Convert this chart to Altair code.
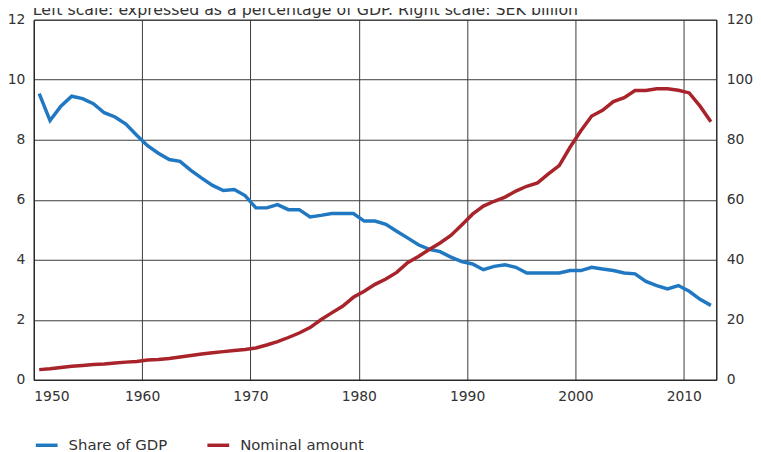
import altair as alt
import pandas as pd

years = list(range(1950, 2013))

share_of_gdp = [
    9.54, 8.64, 9.12, 9.45, 9.37, 9.20, 8.90, 8.76, 8.52, 8.15,
    7.80, 7.55, 7.34, 7.28, 6.98, 6.72, 6.48, 6.31, 6.34, 6.14,
    5.73, 5.73, 5.84, 5.67, 5.67, 5.43, 5.48, 5.54, 5.54, 5.54,
    5.29, 5.29, 5.18, 4.95, 4.73, 4.50, 4.35, 4.27, 4.09, 3.94,
    3.86, 3.67, 3.78, 3.83, 3.75, 3.56, 3.56, 3.56, 3.56, 3.64,
    3.64, 3.75, 3.69, 3.64, 3.56, 3.53, 3.28, 3.14, 3.03, 3.14,
    2.95, 2.68, 2.48,
]

nominal_amount = [
    3.4, 3.7, 4.1, 4.5, 4.8, 5.1, 5.3, 5.6, 5.9, 6.1,
    6.6, 6.8, 7.1, 7.6, 8.1, 8.6, 9.0, 9.4, 9.8, 10.1,
    10.6, 11.6, 12.7, 14.1, 15.6, 17.4, 20.0, 22.3, 24.5, 27.5,
    29.5, 31.8, 33.6, 35.8, 39.0, 41.1, 43.4, 45.6, 48.1, 51.6,
    55.2, 57.9, 59.5, 60.9, 62.9, 64.5, 65.6, 68.6, 71.4, 77.5,
    83.0, 87.9, 89.8, 92.7, 94.0, 96.4, 96.4, 97.0, 97.0, 96.5,
    95.6, 91.2, 86.0,
]

series_names = ["Share of GDP", "Nominal amount"]
series_colors = ["#1f78c1", "#a8232a"]
x_ticks = [1950, 1960, 1970, 1980, 1990, 2000, 2010]
left_ticks = [0, 2, 4, 6, 8, 10, 12]
right_ticks = [0, 20, 40, 60, 80, 100, 120]
title_text = ["Left scale: expressed as a percentage of GDP. Right scale: SEK billion"]

df = pd.DataFrame({"year": years, "share": share_of_gdp, "nominal": nominal_amount})
title_df = pd.DataFrame({"label": title_text})

FONT = "DejaVu Sans"
TXT = "#333333"

color_scale = alt.Scale(domain=series_names, range=series_colors)

x_enc = alt.X(
    "t:Q",
    scale=alt.Scale(domain=[1950, 2013], nice=False, zero=False),
    axis=alt.Axis(values=x_ticks, format="d", title=None, grid=True, ticks=False,
                  labelPadding=10),
)

legend = alt.Legend(
    orient="none", legendX=0, legendY=416, direction="horizontal", title=None,
    symbolType="stroke", symbolStrokeWidth=3.5, symbolSize=484,
    labelFont=FONT, labelFontSize=15, labelColor=TXT,
    labelOffset=9, columnPadding=33, padding=0,
)

base = alt.Chart(df).transform_calculate(t="datum.year + 0.5")

blue = base.transform_calculate(series="'Share of GDP'").mark_line(strokeWidth=3.5).encode(
    x=x_enc,
    y=alt.Y("share:Q", scale=alt.Scale(domain=[0, 12], nice=False),
            axis=alt.Axis(orient="left", values=left_ticks, title=None, grid=True,
                          ticks=False, labelPadding=9)),
    color=alt.Color("series:N", scale=color_scale, legend=legend),
)

red = base.transform_calculate(series="'Nominal amount'").mark_line(strokeWidth=3.5).encode(
    x=x_enc,
    y=alt.Y("nominal:Q", scale=alt.Scale(domain=[0, 120], nice=False),
            axis=alt.Axis(orient="right", values=right_ticks, title=None, grid=False,
                          ticks=False, labelPadding=10)),
    color=alt.Color("series:N", scale=color_scale, legend=legend),
)

title_layer = alt.Chart(title_df).mark_text(
    align="left", baseline="alphabetic", font=FONT, fontSize=15.9, color=TXT
).encode(x=alt.value(-1), y=alt.value(-5), text="label:N")

chart = (
    alt.layer(blue, red, title_layer)
    .resolve_scale(y="independent")
    .properties(
        width=688,
        height=363,
        autosize=alt.AutoSizeParams(type="none"),
        padding={"left": 26, "top": 10, "right": 37, "bottom": 76},
    )
    .configure_view(stroke="#222222", strokeWidth=1)
    .configure_axis(labelFont=FONT, labelFontSize=14, labelColor=TXT,
                    domainColor="#222222", domainWidth=1,
                    gridColor="#3a3a3a", gridWidth=1, gridOpacity=1)
)

chart.save("out.html", embed_options={"renderer": "svg", "actions": False})
